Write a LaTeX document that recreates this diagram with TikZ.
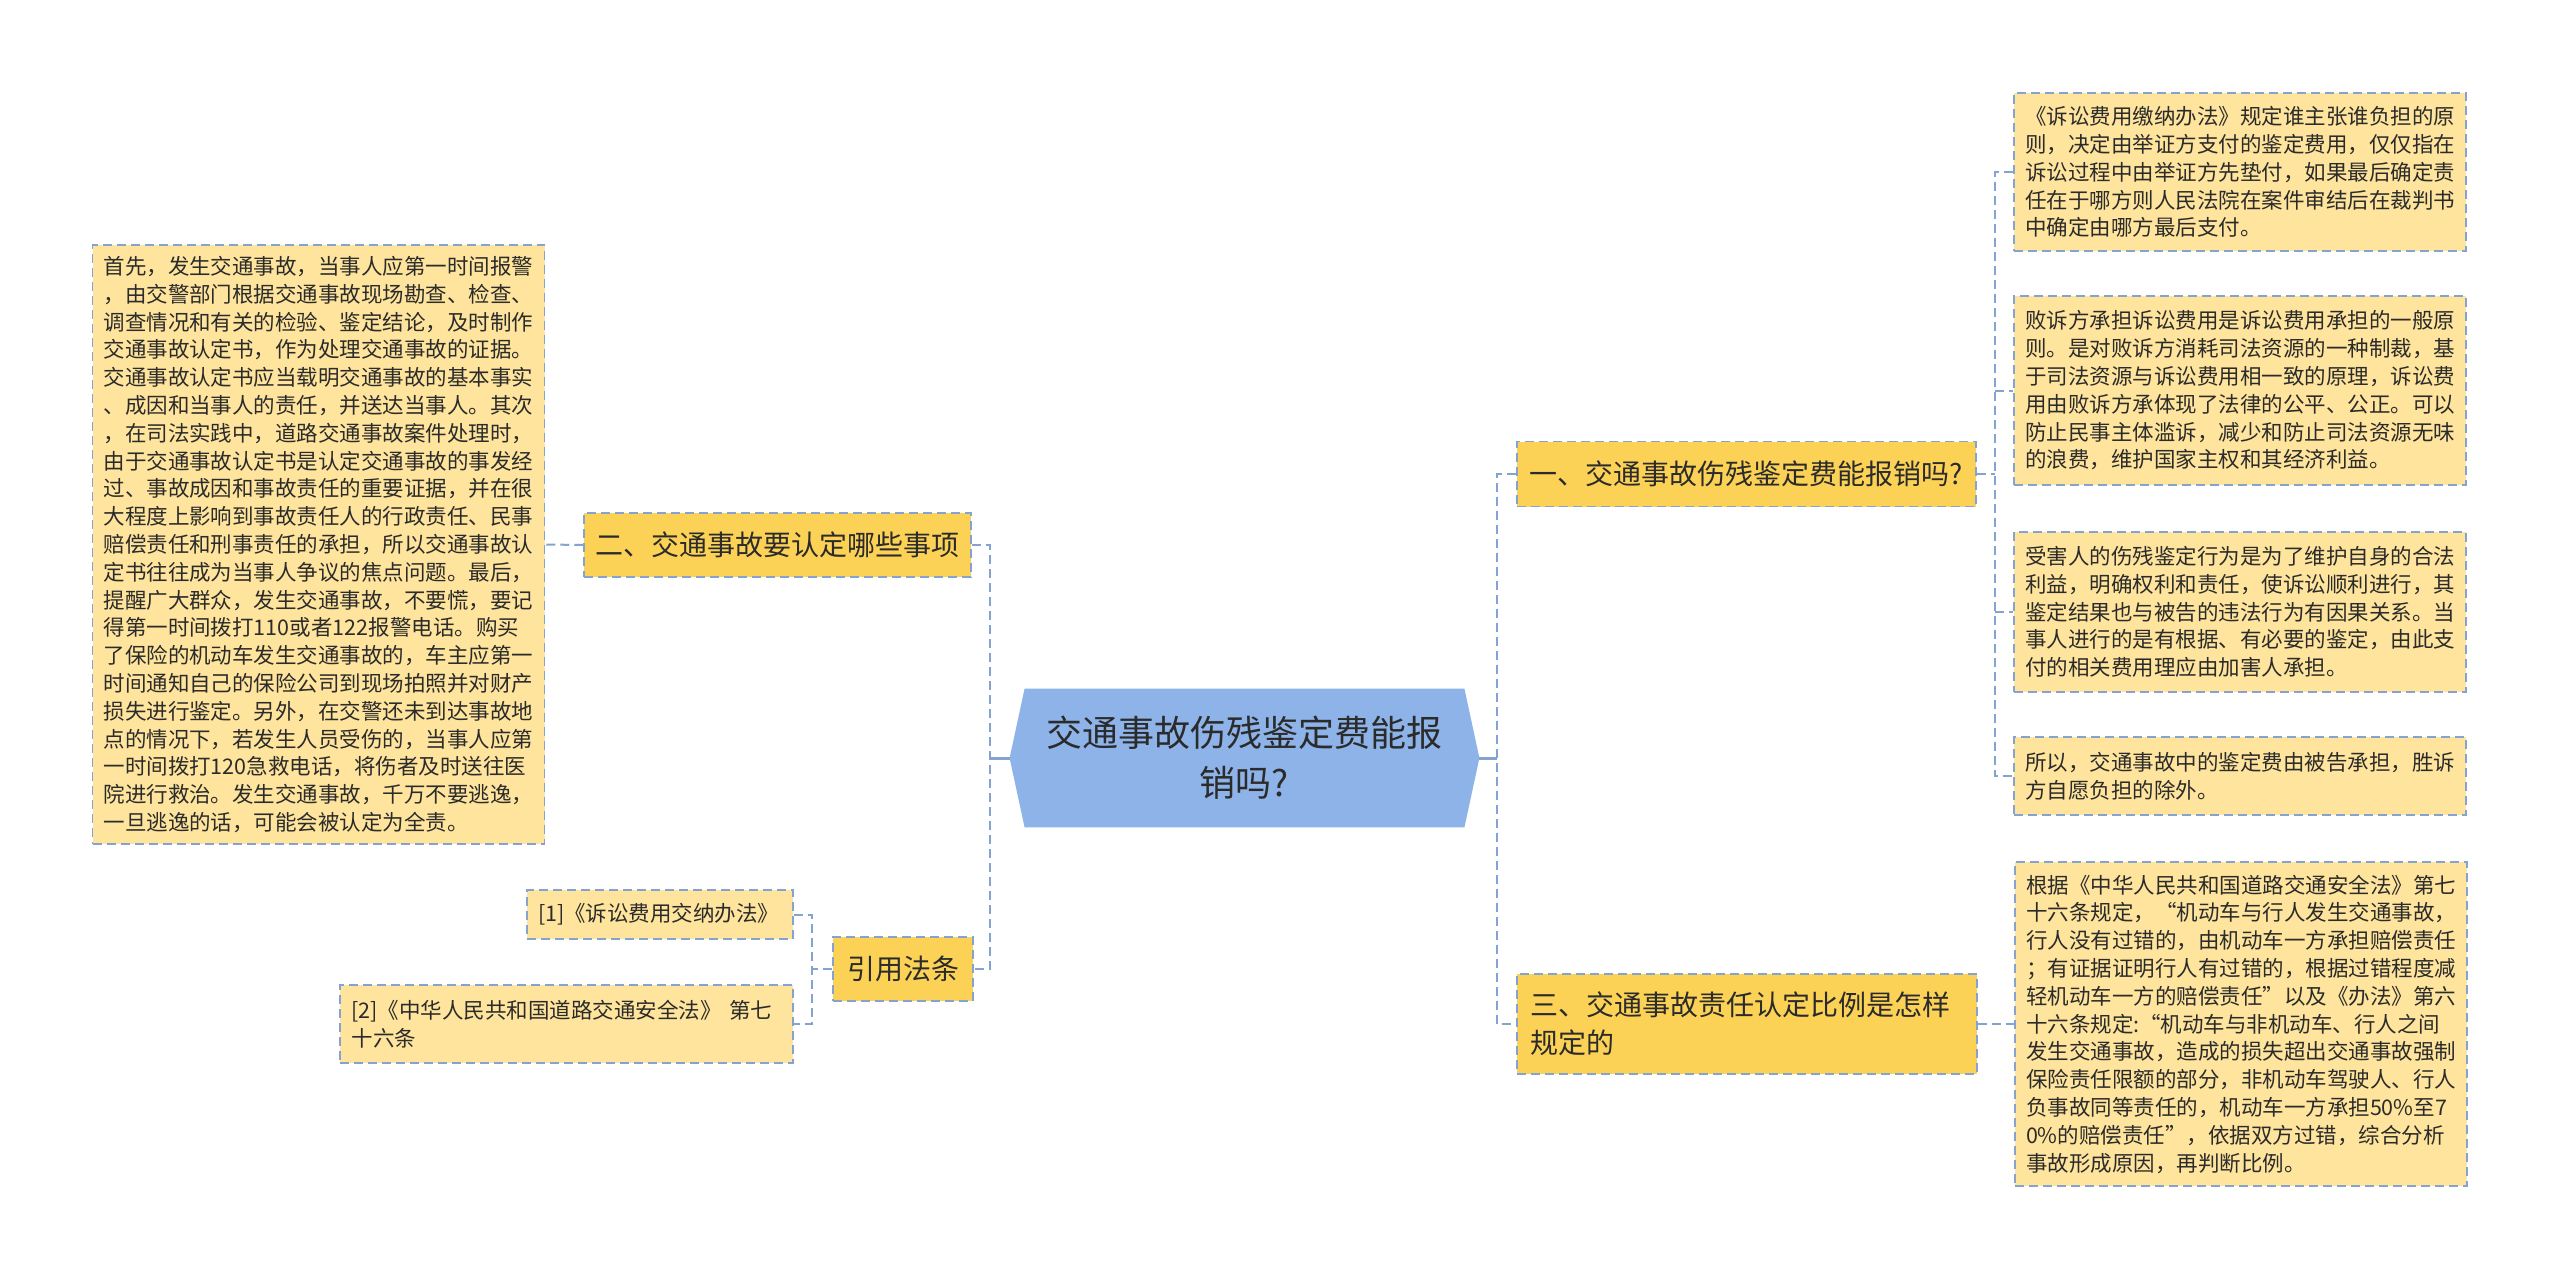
\documentclass[tikz,border=0pt]{standalone}
\usepackage{fontspec}
\setmainfont{Noto Sans CJK SC}
\usetikzlibrary{backgrounds}
\definecolor{rootblue}{RGB}{141,179,233}
\definecolor{branchgold}{RGB}{252,210,86}
\definecolor{leafcream}{RGB}{254,228,156}
\definecolor{edgeblue}{RGB}{132,163,208}
\definecolor{inkgray}{RGB}{43,43,43}

\begin{document}
\begin{tikzpicture}[x=0.5pt, y=-0.5pt,
	box/.style={draw=edgeblue, line width=0.75pt, dash pattern=on 4.5pt off 2.5pt, inner sep=0pt, text=inkgray},
	leaf/.style={box, fill=leafcream, align=left, text width=215pt, minimum width=226pt, font=\fontsize{10.75}{13.9}\selectfont},
	branch/.style={box, fill=branchgold, align=left, font=\fontsize{14}{19}\selectfont},
	root/.style={inner sep=0pt, text=inkgray, align=center, text width=200pt, minimum width=234.5pt, minimum height=69pt, font=\fontsize{18}{25}\selectfont},
	link/.style={edgeblue, line width=1pt, dash pattern=on 4.5pt off 2.5pt},
	rootlink/.style={edgeblue, line width=1.5pt}]
	\useasboundingbox (0,0) rectangle (2560,1279);
	\node[root] (root) at (1244.5,758) {交通事故伤残鉴定费能报\\销吗?};
	\node[branch, minimum width=229.5pt, minimum height=32.5pt, text width=217pt] (b1) at (1746.5,474) {一、交通事故伤残鉴定费能报销吗?};
	\node[branch, minimum width=230pt, minimum height=50pt, text width=217pt] (b3) at (1747,1024) {三、交通事故责任认定比例是怎样\\规定的};
	\node[branch, minimum width=193.5pt, minimum height=32pt, text width=182pt] (b2) at (777.5,545) {二、交通事故要认定哪些事项};
	\node[branch, minimum width=70pt, minimum height=32pt, align=center] (cite) at (903,969) {引用法条};
	\node[leaf, minimum height=79pt] (r1) at (2240,172) {《诉讼费用缴纳办法》规定谁主张谁负担的原\\则，决定由举证方支付的鉴定费用，仅仅指在\\诉讼过程中由举证方先垫付，如果最后确定责\\任在于哪方则人民法院在案件审结后在裁判书\\中确定由哪方最后支付。};
	\node[leaf, minimum height=94.5pt] (r2) at (2240,390.5) {败诉方承担诉讼费用是诉讼费用承担的一般原\\则。是对败诉方消耗司法资源的一种制裁，基\\于司法资源与诉讼费用相一致的原理，诉讼费\\用由败诉方承体现了法律的公平、公正。可以\\防止民事主体滥诉，减少和防止司法资源无味\\的浪费，维护国家主权和其经济利益。};
	\node[leaf, minimum height=80pt] (r3) at (2240,612) {受害人的伤残鉴定行为是为了维护自身的合法\\利益，明确权利和责任，使诉讼顺利进行，其\\鉴定结果也与被告的违法行为有因果关系。当\\事人进行的是有根据、有必要的鉴定，由此支\\付的相关费用理应由加害人承担。};
	\node[leaf, minimum height=39pt] (r4) at (2240,776) {所以，交通事故中的鉴定费由被告承担，胜诉\\方自愿负担的除外。};
	\node[leaf, minimum height=162pt] (r5) at (2241,1024) {根据《中华人民共和国道路交通安全法》第七\\十六条规定，“机动车与行人发生交通事故，\\行人没有过错的，由机动车一方承担赔偿责任\\；有证据证明行人有过错的，根据过错程度减\\轻机动车一方的赔偿责任”以及《办法》第六\\十六条规定:“机动车与非机动车、行人之间\\发生交通事故，造成的损失超出交通事故强制\\保险责任限额的部分，非机动车驾驶人、行人\\负事故同等责任的，机动车一方承担50\%至7\\0\%的赔偿责任”，依据双方过错，综合分析\\事故形成原因，再判断比例。};
	\node[leaf, minimum height=299.5pt] (l1) at (318.5,544.5) {首先，发生交通事故，当事人应第一时间报警\\，由交警部门根据交通事故现场勘查、检查、\\调查情况和有关的检验、鉴定结论，及时制作\\交通事故认定书，作为处理交通事故的证据。\\交通事故认定书应当载明交通事故的基本事实\\、成因和当事人的责任，并送达当事人。其次\\，在司法实践中，道路交通事故案件处理时，\\由于交通事故认定书是认定交通事故的事发经\\过、事故成因和事故责任的重要证据，并在很\\大程度上影响到事故责任人的行政责任、民事\\赔偿责任和刑事责任的承担，所以交通事故认\\定书往往成为当事人争议的焦点问题。最后，\\提醒广大群众，发生交通事故，不要慌，要记\\得第一时间拨打110或者122报警电话。购买\\了保险的机动车发生交通事故的，车主应第一\\时间通知自己的保险公司到现场拍照并对财产\\损失进行鉴定。另外，在交警还未到达事故地\\点的情况下，若发生人员受伤的，当事人应第\\一时间拨打120急救电话，将伤者及时送往医\\院进行救治。发生交通事故，千万不要逃逸，\\一旦逃逸的话，可能会被认定为全责。};
	\node[leaf, minimum width=133pt, minimum height=24.5pt, text width=122pt] (c1) at (660,914.5) {[1]《诉讼费用交纳办法》};
	\node[leaf, minimum width=226.5pt, minimum height=39pt] (c2) at (566.5,1024) {[2]《中华人民共和国道路交通安全法》~第七\\十六条};
	\coordinate (lbus) at (990,758);
	\coordinate (rbus) at (1497,758);
	\coordinate (obus) at (1995,474);
	\coordinate (cbus) at (812,969);
	\draw[rootlink] (root.west) -- (lbus);
	\draw[rootlink] (root.east) -- (rbus);
	\draw[link] (b2.east) -| (lbus) |- (cite.east);
	\draw[link] (b1.west) -| (rbus) |- (b3.west);
	\draw[link] (b1.east) -- (obus);
	\draw[link] (r1.west) -| (obus) |- (r4.west);
	\draw[link] (obus |- r2.west) -- (r2.west);
	\draw[link] (obus |- r3.west) -- (r3.west);
	\draw[link] (b3.east) -- (r5.west);
	\draw[link] (b2.west) -- (l1.east);
	\draw[link] (cite.west) -- (cbus);
	\draw[link] (c1.east) -| (cbus) |- (c2.east);
	\begin{scope}[on background layer]
		\fill[white] (0,0) rectangle (2560,1279);
		\fill[rootblue] (root.west) -- ([xshift=7.5pt]root.north west) -- ([xshift=-7.5pt]root.north east) -- (root.east) -- ([xshift=-7.5pt]root.south east) -- ([xshift=7.5pt]root.south west) -- cycle;
	\end{scope}
\end{tikzpicture}
\end{document}
